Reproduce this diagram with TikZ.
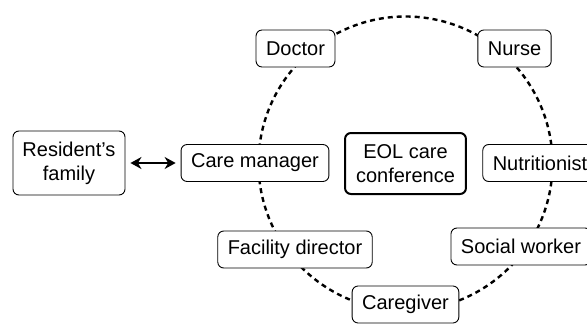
\documentclass[tikz,border=0pt]{standalone}
\usepackage{fontspec}
\setmainfont{Liberation Sans}
\usetikzlibrary{arrows.meta}
\begin{document}
\begin{tikzpicture}[x=1pt,y=-1pt,
  box/.style={draw, line width=0.9pt, rounded corners=6pt, fill=white,
    inner xsep=10pt, inner ysep=0pt, minimum height=37pt, align=center,
    font=\fontsize{20}{24}\selectfont},
  mainbox/.style={box, line width=2pt, inner xsep=11pt, minimum height=61pt},
  ring/.style={line width=2.4pt, dash pattern=on 5pt off 4pt},
  link/.style={line width=2.6pt, {Stealth[length=11pt,width=12pt]}-{Stealth[length=11pt,width=12pt]}, shorten <=5pt, shorten >=5pt}]
\useasboundingbox (0,0) rectangle (587,324);
\clip (0,0) rectangle (587,324);
\coordinate (c) at (405.5,163.5);
\draw[ring] (c) circle[radius=147];
\node[mainbox] (eol) at (c) {EOL care\\conference};
\node[box] (doctor) at (295.5,48.5) {Doctor};
\node[box] (nurse) at (514.5,48.5) {Nurse};
\node[box] (care) at (255,163) {Care manager};
\node[box] (nutr) at (540,163) {Nutritionist};
\node[box] (facility) at (295,249.5) {Facility director};
\node[box] (social) at (521,246.5) {Social worker};
\node[box] (caregiver) at (405.5,304.5) {Caregiver};
\node[box, minimum height=64pt, inner xsep=9.5pt] (family) at (69,163) {Resident’s\\family};
\draw[link] (family) -- (care);
\end{tikzpicture}
\end{document}
